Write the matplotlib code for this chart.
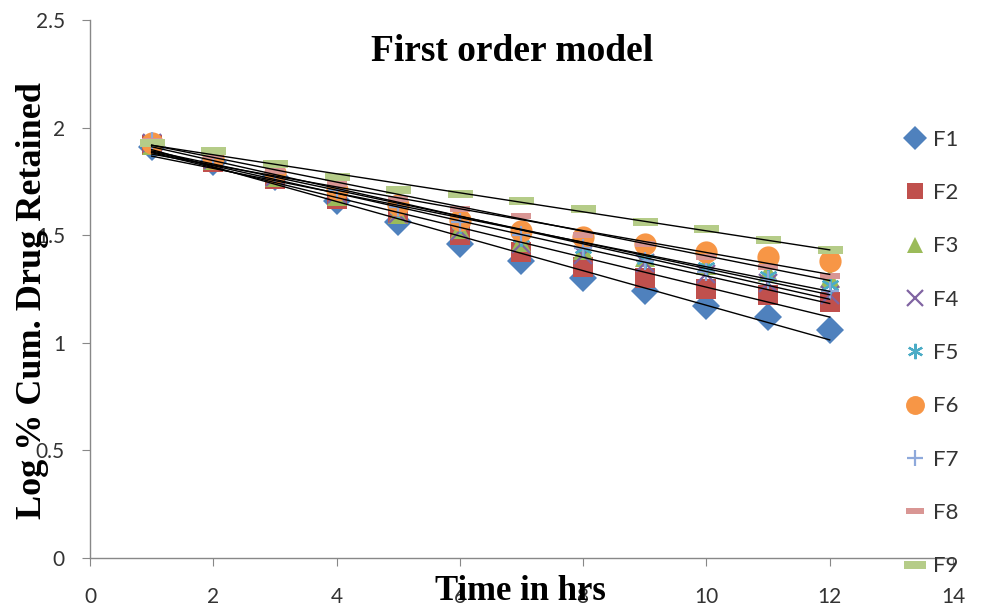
import numpy as np
import matplotlib
matplotlib.use("Agg")
import matplotlib.pyplot as plt

# time points (hrs)
time_hrs = [1, 2, 3, 4, 5, 6, 7, 8, 9, 10, 11, 12]

# log % cumulative drug retained
F1 = [1.91, 1.84, 1.77, 1.66, 1.56, 1.46, 1.38, 1.30, 1.24, 1.17, 1.12, 1.06]
F2 = [1.92, 1.84, 1.76, 1.67, 1.60, 1.50, 1.42, 1.35, 1.30, 1.25, 1.22, 1.19]
F3 = [1.92, 1.85, 1.77, 1.68, 1.60, 1.53, 1.47, 1.43, 1.40, 1.36, 1.33, 1.30]
F4 = [1.93, 1.85, 1.77, 1.69, 1.60, 1.52, 1.46, 1.41, 1.37, 1.32, 1.28, 1.22]
F5 = [1.93, 1.86, 1.78, 1.70, 1.62, 1.55, 1.49, 1.44, 1.39, 1.35, 1.31, 1.27]
F6 = [1.93, 1.86, 1.79, 1.71, 1.64, 1.57, 1.52, 1.49, 1.46, 1.42, 1.40, 1.38]
F7 = [1.94, 1.87, 1.79, 1.71, 1.63, 1.56, 1.50, 1.44, 1.38, 1.33, 1.29, 1.24]
F8 = [1.94, 1.87, 1.80, 1.74, 1.67, 1.62, 1.59, 1.50, 1.46, 1.40, 1.35, 1.31]
F9 = [1.93, 1.89, 1.83, 1.77, 1.71, 1.69, 1.66, 1.62, 1.56, 1.53, 1.48, 1.43]

names = ["F1", "F2", "F3", "F4", "F5", "F6", "F7", "F8", "F9"]
series = [F1, F2, F3, F4, F5, F6, F7, F8, F9]

colors = ["#4F81BD", "#C0504D", "#9BBB59", "#8064A2", "#4BACC6",
          "#F79646", "#8EA9DB", "#D99694", "#B5CC88"]

dash_small = [(-1, -0.3), (1, -0.3), (1, 0.3), (-1, 0.3), (-1, -0.3)]
dash_big = [(-1, -0.35), (1, -0.35), (1, 0.35), (-1, 0.35), (-1, -0.35)]
markers = ["D", "s", "^", "x", (6, 2, 0), "o", "+", dash_small, dash_big]
sizes = [14, 14, 14, 13, 13, 16, 13, 15, 18]

fig = plt.figure(figsize=(10.01, 6.10), dpi=100)
ax = fig.add_axes([0.0899, 0.0852, 0.8621, 0.8820])

x = np.array(time_hrs)
for nm, y, c, m, s in zip(names, series, colors, markers, sizes):
    lw = 1.6 if m in ("x", "+") or isinstance(m, tuple) else 0
    ax.plot(x, y, linestyle="none", marker=m, markersize=s, color=c,
            markeredgecolor=c, markeredgewidth=lw, label=nm, zorder=2)

# linear trendlines
for y in series:
    k, b = np.polyfit(x, y, 1)
    xs = np.array([x[0], x[-1]])
    ax.plot(xs, k * xs + b, color="black", lw=1.0, zorder=3)

ax.set_xlim(0, 14)
ax.set_ylim(0, 2.5)
ax.set_xticks(range(0, 15, 2))
ax.set_yticks([0, 0.5, 1, 1.5, 2, 2.5])
ax.set_yticklabels(["0", "0.5", "1", "1.5", "2", "2.5"])

for sp in ["top", "right"]:
    ax.spines[sp].set_visible(False)
for sp in ["left", "bottom"]:
    ax.spines[sp].set_color("#888888")
    ax.spines[sp].set_linewidth(1.0)
ax.tick_params(axis="both", direction="out", length=6, color="#888888",
               labelsize=15, labelcolor="#333333")
ax.tick_params(axis="x", pad=15)
ax.tick_params(axis="y", pad=12)
for lbl in ax.get_xticklabels() + ax.get_yticklabels():
    lbl.set_fontfamily("Lato")

fig.text(0.512, 0.915, "First order model", ha="center", va="center",
         fontfamily="Liberation Serif", fontweight="bold", fontsize=27)
fig.text(0.52, 0.030, "Time in hrs", ha="center", va="center",
         fontfamily="Liberation Serif", fontweight="bold", fontsize=25)
fig.text(0.032, 0.508, "Log % Cum. Drug Retained", ha="center", va="center",
         rotation=90, fontfamily="Liberation Serif", fontweight="bold", fontsize=26)

leg = ax.legend(loc="upper left", bbox_to_anchor=(0.883, 0.82),
                bbox_transform=fig.transFigure, frameon=False,
                prop={"family": "Lato", "size": 16},
                labelspacing=1.5, handlelength=1.0, handletextpad=0.3,
                markerscale=0.85)
for t in leg.get_texts():
    t.set_color("#333333")

fig.savefig("out.png", dpi=100)
